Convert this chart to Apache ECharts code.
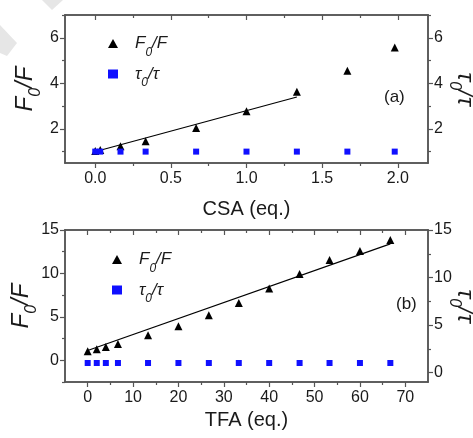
<!DOCTYPE html>
<html>
<head>
<meta charset="utf-8">
<script src="https://cdn.jsdelivr.net/npm/echarts@6/dist/echarts.min.js"></script>
<style>
  html, body { margin: 0; padding: 0; background: #fff; }
  #chart { width: 473px; height: 438px; }
</style>
</head>
<body>
<div id="chart"></div>
<script>
// panel (a): CSA titration
const csaX = [0, 0.033, 0.167, 0.333, 0.667, 1.0, 1.333, 1.667, 1.98]
const csaF = [1.03, 1.07, 1.24, 1.46, 2.04, 2.77, 3.63, 4.55, 5.57]
const csaTau = [1, 1, 1, 1, 1, 1, 1, 1, 1]
const csaFitX = [0.033, 1.333]
const csaFitY = [1.06, 3.4]

// panel (b): TFA titration
const tfaX = [0, 2, 4, 6.67, 13.3, 20, 26.7, 33.3, 40, 46.7, 53.3, 60, 66.7]
const tfaF = [1.04, 1.27, 1.54, 1.88, 2.88, 3.92, 5.19, 6.6, 8.27, 9.92, 11.54, 12.57, 13.84]
const tfaTau = [1, 1, 1, 1, 1, 1, 1, 1, 1, 1, 1, 1, 1]
const tfaFitX = [0, 66.7]
const tfaFitY = [1.12, 13.4]

// tick values
const csaTicks = [0, 0.5, 1.0, 1.5, 2.0]
const csaMinor = [-0.25, 0.25, 0.75, 1.25, 1.75, 2.25]
const csaYTicks = [2, 4, 6]
const csaYMinor = [1, 3, 5, 7]
const tfaTicks = [0, 10, 20, 30, 40, 50, 60, 70]
const tfaMinor = [5, 15, 25, 35, 45, 55, 65]
const tfaYTicks = [0, 5, 10, 15]
const tfaYMinor = [-2.5, 2.5, 7.5, 12.5]
const tfaY2Minor = [2.5, 7.5, 12.5]

const font = 'Liberation Sans, Arial, sans-serif'
const axisColor = '#555'
const textColor = '#1a1a1a'

const richName = {
  i: { fontFamily: font, fontStyle: 'italic', fontSize: 24, color: textColor, lineHeight: 38, verticalAlign: 'middle' },
  s: { fontFamily: font, fontStyle: 'italic', fontSize: 16, color: textColor, lineHeight: 38, verticalAlign: 'bottom' }
}
const richLegend = {
  pad: { width: 12 },
  i: { fontFamily: font, fontStyle: 'italic', fontSize: 17, color: textColor, lineHeight: 30, verticalAlign: 'middle' },
  s: { fontFamily: font, fontStyle: 'italic', fontSize: 12, color: textColor, lineHeight: 30, verticalAlign: 'bottom' }
}

function axis(gridIndex, min, max, position, ticks, tickLen, inside, extra) {
  return Object.assign({
    type: 'value',
    gridIndex: gridIndex,
    min: min,
    max: max,
    position: position,
    axisLine: { show: true, onZero: false, lineStyle: { color: axisColor, width: 1.5 } },
    axisTick: { show: true, inside: inside, length: tickLen, customValues: ticks, lineStyle: { color: axisColor, width: 1.2 } },
    axisLabel: { show: false },
    splitLine: { show: false }
  }, extra || {})
}

function labels(values, fmt, margin) {
  return {
    show: true,
    customValues: values,
    formatter: fmt,
    fontFamily: font,
    fontSize: 16,
    color: textColor,
    margin: margin
  }
}

const fmt1 = (v) => v.toFixed(1)
const fmt0 = (v) => String(Math.round(v))

const xAxes = [
  // grid 0
  axis(0, -0.2, 2.2, 'bottom', csaTicks, 5, false, {
    axisLabel: labels(csaTicks, fmt1, 8),
    name: 'CSA (eq.)', nameLocation: 'middle', nameGap: 36,
    nameTextStyle: { fontFamily: font, fontSize: 20, color: textColor }
  }),
  axis(0, -0.2, 2.2, 'bottom', csaMinor, 3, false),
  axis(0, -0.2, 2.2, 'top', csaTicks, 5, true),
  axis(0, -0.2, 2.2, 'top', csaMinor, 3, true),
  // grid 1
  axis(1, -5, 75, 'bottom', tfaTicks, 5, false, {
    axisLabel: labels(tfaTicks, fmt0, 8),
    name: 'TFA (eq.)', nameLocation: 'middle', nameGap: 28,
    nameTextStyle: { fontFamily: font, fontSize: 20, color: textColor }
  }),
  axis(1, -5, 75, 'bottom', tfaMinor, 3, false),
  axis(1, -5, 75, 'top', tfaTicks, 5, true),
  axis(1, -5, 75, 'top', tfaMinor, 3, true)
]

const fName = '{i|F}{s|0}{i|/F}'
const tName = '{i|τ}{s|0}{i|/τ}'

function yName(text, rotate, gap) {
  return {
    name: text,
    nameLocation: 'middle',
    nameRotate: rotate,
    nameGap: gap,
    nameMoveOverlap: false,
    nameTextStyle: { rich: richName }
  }
}

const yAxes = [
  // grid 0
  axis(0, 0.5, 7, 'left', csaYTicks, 5, false,
    Object.assign({ axisLabel: labels(csaYTicks, fmt0, 6) }, yName(fName, 90, 21))),
  axis(0, 0.5, 7, 'left', csaYMinor, 3, false),
  axis(0, 0.5, 7, 'right', csaYTicks, 5, false,
    Object.assign({ axisLabel: labels(csaYTicks, fmt0, 6) }, yName(tName, -90, 18))),
  axis(0, 0.5, 7, 'right', csaYMinor, 3, false),
  // grid 1
  axis(1, -2.5, 15, 'left', tfaYTicks, 5, false,
    Object.assign({ axisLabel: labels(tfaYTicks, fmt0, 6) }, yName(fName, 90, 25))),
  axis(1, -2.5, 15, 'left', tfaYMinor, 3, false),
  axis(1, -1, 15, 'right', tfaYTicks, 5, false,
    Object.assign({ axisLabel: labels(tfaYTicks, fmt0, 6) }, yName(tName, -90, 18))),
  axis(1, -1, 15, 'right', tfaY2Minor, 3, false)
]

const zip = (xs, ys) => xs.map((x, i) => [x, ys[i]])

const legendNames = { Fa: fName, Fb: fName, Ta: tName, Tb: tName }

function legend(names, left, top) {
  return {
    data: names,
    orient: 'vertical',
    left: left,
    top: top,
    itemGap: 7,
    itemWidth: 10,
    itemHeight: 9,
    formatter: (n) => '{pad|}' + legendNames[n],
    textStyle: { rich: richLegend }
  }
}

const chart = echarts.init(document.getElementById('chart'))
chart.setOption({
  animation: false,
  backgroundColor: '#fff',
  grid: [
    { left: 65, top: 15, width: 363, height: 148, outerBoundsMode: 'none' },
    { left: 65, top: 230, width: 363, height: 152, outerBoundsMode: 'none' }
  ],
  xAxis: xAxes,
  yAxis: yAxes,
  legend: [legend(['Fa', 'Ta'], 103, 30), legend(['Fb', 'Tb'], 107, 246)],
  graphic: [
    { type: 'polygon', z: -1, shape: { points: [[42, 0], [63, 0], [52, 10]] }, style: { fill: '#e6e6e6' } },
    { type: 'polygon', z: -1, shape: { points: [[0, 25], [17, 43], [7, 56], [0, 53]] }, style: { fill: '#e6e6e6' } },
    { type: 'text', left: 384, top: 89, style: { text: '(a)', fontFamily: font, fontSize: 17, fill: textColor } },
    { type: 'text', left: 396, top: 296, style: { text: '(b)', fontFamily: font, fontSize: 17, fill: textColor } }
  ],
  series: [
    { name: 'Fa', type: 'scatter', xAxisIndex: 0, yAxisIndex: 0, symbol: 'triangle', symbolSize: 8,
      itemStyle: { color: '#000', opacity: 1 }, data: zip(csaX, csaF), z: 3 },
    { name: 'Ta', type: 'scatter', xAxisIndex: 0, yAxisIndex: 2, symbol: 'rect', symbolSize: 6,
      itemStyle: { color: '#1010ff', opacity: 1 }, data: zip(csaX, csaTau), z: 3 },
    { name: 'fitA', type: 'line', xAxisIndex: 0, yAxisIndex: 0, showSymbol: false, silent: true,
      lineStyle: { color: '#000', width: 1.2 }, data: zip(csaFitX, csaFitY), z: 2 },
    { name: 'Fb', type: 'scatter', xAxisIndex: 4, yAxisIndex: 4, symbol: 'triangle', symbolSize: 8,
      itemStyle: { color: '#000', opacity: 1 }, data: zip(tfaX, tfaF), z: 3 },
    { name: 'Tb', type: 'scatter', xAxisIndex: 4, yAxisIndex: 6, symbol: 'rect', symbolSize: 6,
      itemStyle: { color: '#1010ff', opacity: 1 }, data: zip(tfaX, tfaTau), z: 3 },
    { name: 'fitB', type: 'line', xAxisIndex: 4, yAxisIndex: 4, showSymbol: false, silent: true,
      lineStyle: { color: '#000', width: 1.2 }, data: zip(tfaFitX, tfaFitY), z: 2 }
  ]
})
</script>
</body>
</html>
